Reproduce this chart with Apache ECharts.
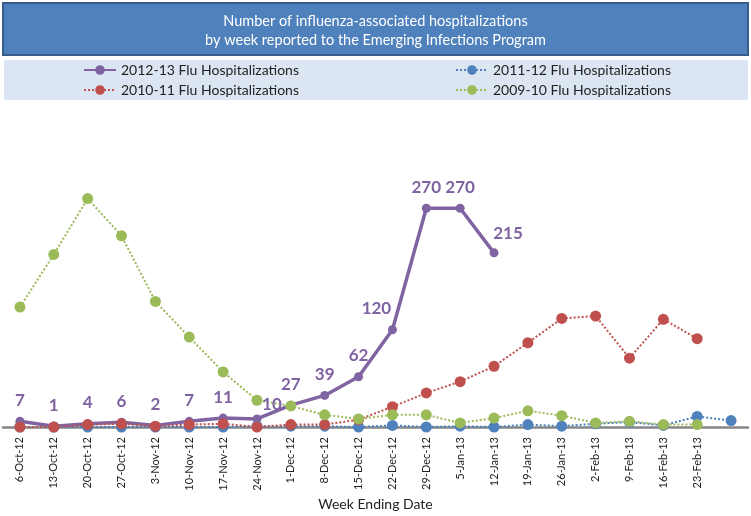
<!DOCTYPE html>
<html>
<head>
<meta charset="utf-8">
<script src="https://cdn.jsdelivr.net/npm/echarts@6/dist/echarts.min.js"></script>
<style>
html,body{margin:0;padding:0;background:#fff;}
#chart{width:751px;height:516px;}
</style>
</head>
<body>
<div id="chart"></div>
<script>
var weeks = ['6-Oct-12','13-Oct-12','20-Oct-12','27-Oct-12','3-Nov-12','10-Nov-12','17-Nov-12','24-Nov-12','1-Dec-12','8-Dec-12','15-Dec-12','22-Dec-12','29-Dec-12','5-Jan-13','12-Jan-13','19-Jan-13','26-Jan-13','2-Feb-13','9-Feb-13','16-Feb-13','23-Feb-13',''];
var flu1213 = [7,1,4,6,2,7,11,10,27,39,62,120,270,270,215,null,null,null,null,null,null,null];
var flu1112 = [0,0,0,0,0,0,0,1,1,1,0,2,0,1,0,3,1,4,6,2,13,8];
var flu1011 = [0,0,3,4,1,3,4,0,3,3,9,25,42,56,75,104,134,137,85,133,109,null];
var flu0910 = [148,213,282,236,155,111,68,33,26,15,10,15,15,5,11,20,14,5,7,3,3,null];

var names = ['2012-13 Flu Hospitalizations','2011-12 Flu Hospitalizations','2010-11 Flu Hospitalizations','2009-10 Flu Hospitalizations'];
var FONT = 'Lato';
// label offsets (styling only)
var labelOffsets = {7:[15,7], 11:[-16,0], 14:[14,2]};

var chart = echarts.init(document.getElementById('chart'));

function dotted(name, data, color){
  return {
    name: name, type: 'line', data: data,
    symbol: 'circle', symbolSize: 11,
    itemStyle: {color: color},
    lineStyle: {color: color, width: 2, type: 'dotted'},
    connectNulls: false, animation: false
  };
}

var labelData = flu1213.map(function(v, i){
  var o = {value: v};
  if (labelOffsets[i]) o.label = {offset: labelOffsets[i]};
  return o;
});

var legendText = {fontSize:14, lineHeight:14, color:'#222', fontFamily: FONT};

chart.setOption({
  animation: false,
  textStyle: {fontFamily: FONT},
  graphic: [
    {type:'rect', z:-1, shape:{x:3,y:3,width:745,height:52}, style:{fill:'#4F81BD', stroke:'#385D8A', lineWidth:2}},
    {type:'rect', z:-1, shape:{x:4,y:60,width:744,height:40}, style:{fill:'#DCE6F2'}}
  ],
  title: {
    text: 'Number of influenza-associated hospitalizations\nby week reported to the Emerging Infections Program',
    left: 'center', top: 7,
    textStyle: {color:'#FFFFFF', fontSize:14.5, fontWeight:'normal', lineHeight:19, fontFamily: FONT}
  },
  legend: [
    {data:[names[0], names[2]], orient:'vertical', left:78, top:58, itemWidth:32, itemHeight:12, itemGap:6,
     textStyle: legendText},
    {data:[names[1], names[3]], orient:'vertical', left:450, top:58, itemWidth:32, itemHeight:12, itemGap:6,
     textStyle: legendText}
  ],
  grid: {left:3, right:3, top:184, bottom:89, containLabel:false},
  xAxis: {
    type:'category', data: weeks, boundaryGap:true,
    axisLine:{lineStyle:{color:'#868686', width:2.5}},
    axisTick:{show:false},
    axisLabel:{rotate:90, interval:0, fontSize:11, margin:10, color:'#222', fontFamily: FONT},
    name:'Week Ending Date', nameLocation:'middle', nameGap:70,
    nameTextStyle:{fontSize:14, color:'#222', fontFamily: FONT}
  },
  yAxis: {type:'value', min:0, max:300, show:false, splitLine:{show:false}},
  series: [
    {
      name: names[0], type:'line', data: flu1213,
      symbol:'circle', symbolSize:9,
      itemStyle:{color:'#8064A2'},
      lineStyle:{color:'#8064A2', width:3.5},
      animation:false
    },
    dotted(names[1], flu1112, '#4F81BD'),
    dotted(names[2], flu1011, '#C0504D'),
    dotted(names[3], flu0910, '#9BBB59'),
    {
      name:'labels', type:'line', data: labelData, z:10, silent:true,
      symbol:'circle', symbolSize:9,
      itemStyle:{color:'transparent'},
      lineStyle:{width:0, opacity:0},
      label:{show:true, position:'top', distance:8, fontSize:17, fontWeight:'bold', color:'#7F62A1', fontFamily: FONT},
      animation:false
    }
  ]
});
</script>
</body>
</html>
